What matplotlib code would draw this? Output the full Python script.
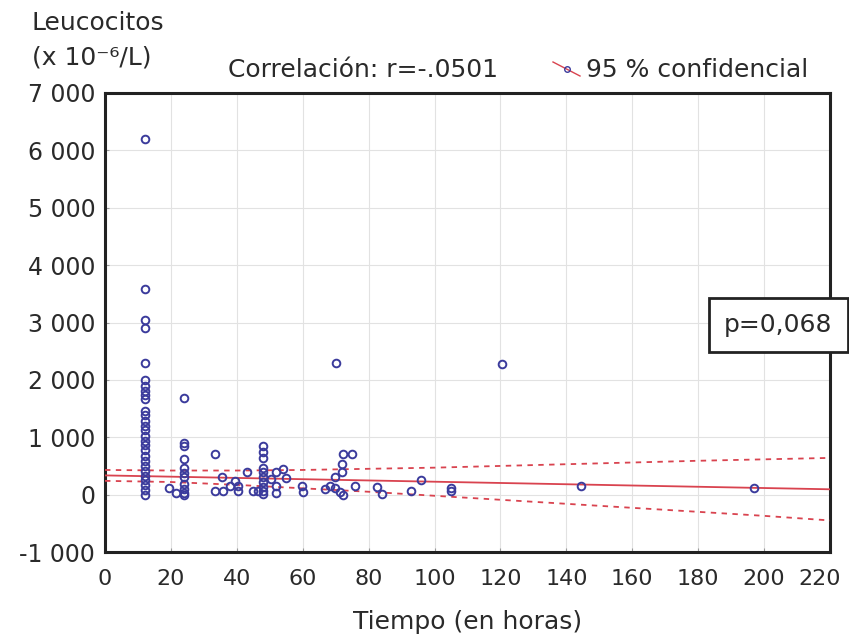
import matplotlib
matplotlib.use("Agg")
from matplotlib import pyplot as plt
from matplotlib.lines import Line2D
from matplotlib.transforms import ScaledTranslation

# Data (hours vs leucocytes)
COL12_Y = [6200, 3580, 3040, 2900, 2290, 1990, 1900, 1810, 1730, 1670, 1460, 1380,
           1290, 1200, 1120, 1030, 940, 860, 770, 680, 590, 500, 420, 330, 250, 160, 80, 0]
COL24_Y = [1680, 900, 840, 620, 470, 380, 300, 190, 100, 35, 0]
COL48_Y = [855, 740, 630, 470, 390, 300, 215, 130, 70, 10]

OTHER_X = [19.5, 21.5, 33.5, 35.5, 33.5, 35.8, 38, 39.5, 40.5, 40.5, 43, 45, 46.5,
           50.5, 52, 52, 52, 54, 55, 59.7, 60.2, 66.8, 68.3, 69.8, 71.3, 72.3,
           70, 69.8, 71.8, 71.8, 72.3, 74.9, 75.9, 82.5, 84, 93, 96, 105, 105,
           120.4, 144.4, 196.8]
OTHER_Y = [110, 35, 710, 300, 70, 70, 155, 240, 155, 70, 390, 70, 70,
           275, 390, 155, 30, 455, 290, 155, 40, 100, 155, 120, 40, 0,
           2290, 300, 390, 530, 710, 710, 155, 130, 10, 55, 260, 115, 60,
           2270, 145, 115]

# Regression line and 95 % band, read at every 20 h
FIT_X = [0, 220]
FIT_Y = [335, 93]
CI_X = [0, 20, 40, 60, 80, 100, 120, 140, 160, 180, 200, 220]
CI_UPPER = [430, 420, 420, 430, 450, 470, 500, 530, 560, 590, 615, 640]
CI_LOWER = [240, 220, 170, 110, 50, -20, -90, -160, -230, -300, -370, -450]

X_TICKS = list(range(0, 221, 20))
Y_TICKS = list(range(-1000, 7001, 1000))
Y_LABELS = ["-1 000", "0", "1 000", "2 000", "3 000", "4 000", "5 000", "6 000", "7 000"]

BLUE = "#3b3b9c"
RED = "#d9434f"
TXT = "#2a2a2a"
FS = 18

plt.rcParams["font.family"] = ["DejaVu Sans"]

fig = plt.figure(figsize=(8.49, 6.41), dpi=100)
ax = fig.add_axes([105 / 849, 1 - 552 / 641, 725 / 849, 459 / 641])

xs = [12] * len(COL12_Y) + [24] * len(COL24_Y) + [48] * len(COL48_Y) + OTHER_X
ys = COL12_Y + COL24_Y + COL48_Y + OTHER_Y

ax.plot(FIT_X, FIT_Y, color=RED, lw=1.3, zorder=3)
ax.plot(CI_X, CI_UPPER, color=RED, lw=1.3, ls=(0, (3, 3)), zorder=3)
ax.plot(CI_X, CI_LOWER, color=RED, lw=1.3, ls=(0, (3, 3)), zorder=3)
ax.plot(xs, ys, ls="none", marker="o", ms=5.5, mfc="none", mec=BLUE, mew=1.4, zorder=4)

ax.set_xlim(0, 220)
ax.set_ylim(-1000, 7000)
ax.set_xticks(X_TICKS)
ax.set_yticks(Y_TICKS)
ax.set_yticklabels(Y_LABELS)
ax.grid(True, color="#e2e2e2", lw=0.8)
ax.set_axisbelow(True)
ax.tick_params(direction="in", length=3, color="#999999", labelcolor=TXT)
ax.tick_params(axis="x", pad=12, labelsize=16)
ax.tick_params(axis="y", pad=7, labelsize=17)
for sp in ax.spines.values():
    sp.set_linewidth(2.2)
    sp.set_color("#222222")

# keep the last x label inside the figure, as in the reference
last = ax.get_xticklabels()[-1]
last.set_transform(last.get_transform() + ScaledTranslation(-10 / 100, 0, fig.dpi_scale_trans))

ax.set_xlabel("Tiempo (en horas)", fontsize=FS, color=TXT, labelpad=15)

# Header texts
fig.text(32 / 849, 1 - 23 / 641, "Leucocitos", fontsize=FS, color=TXT, va="center", ha="left")
fig.text(32 / 849, 1 - 58 / 641, "(x 10⁻⁶/L)", fontsize=FS, color=TXT, va="center", ha="left")
fig.text(228 / 849, 1 - 70 / 641, "Correlación: r=-.0501", fontsize=FS, color=TXT,
         va="center", ha="left")
fig.add_artist(Line2D([553 / 849, 580 / 849], [1 - 62 / 641, 1 - 76 / 641],
                      transform=fig.transFigure, color=RED, lw=1))
fig.add_artist(Line2D([567 / 849], [1 - 69 / 641], transform=fig.transFigure,
                      marker="o", ms=4, mfc="none", mec=BLUE, mew=1))
fig.text(586 / 849, 1 - 70 / 641, "95 % confidencial", fontsize=FS, color=TXT,
         va="center", ha="left")

# p-value box
fig.text(724 / 849, 1 - 325 / 641, "p=0,068", fontsize=FS, color=TXT, va="center", ha="left",
         bbox=dict(boxstyle="square,pad=0.6", fc="white", ec="#222222", lw=2), zorder=10)

fig.savefig("out.png", dpi=100)
